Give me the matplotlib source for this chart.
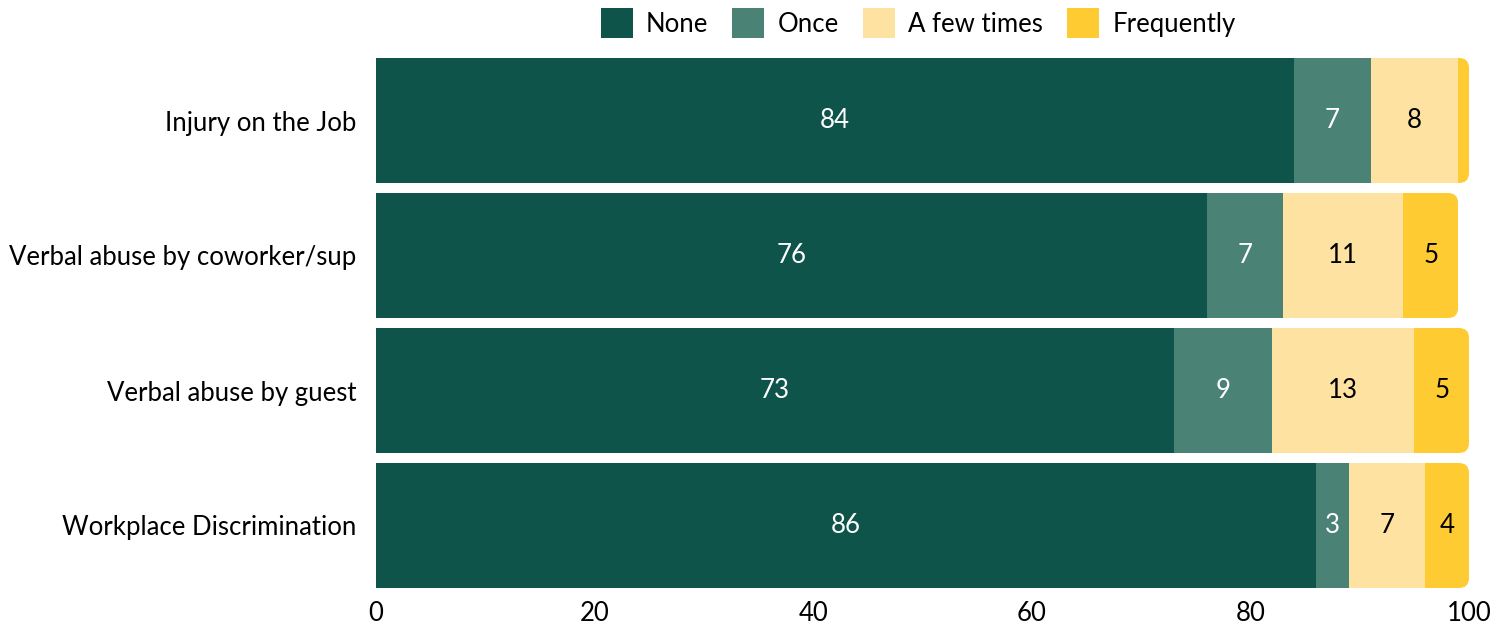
import numpy as np
import matplotlib.pyplot as plt
from matplotlib.patches import FancyBboxPatch

plt.rcParams['font.family'] = ['Lato', 'DejaVu Sans']

categories = ['Injury on the Job', 'Verbal abuse by coworker/sup',
              'Verbal abuse by guest', 'Workplace Discrimination']
series = ['None', 'Once', 'A few times', 'Frequently']
none_vals = [84, 76, 73, 86]
once_vals = [7, 7, 9, 3]
few_vals = [8, 11, 13, 7]
freq_vals = [1, 5, 5, 4]
colors = ['#0E544A', '#4A8276', '#FDE2A1', '#FFCB32']
text_colors = ['white', 'white', 'black', 'black']

W, H = 1510, 626
fig = plt.figure(figsize=(W / 100, H / 100), dpi=100)
ax = fig.add_axes([376 / W, 1 - 593 / H, (1469 - 376) / W, (593 - 53) / H])

y = np.arange(len(categories))
bar_h = 0.926
ax.set_xlim(0, 100)
ax.set_ylim(len(categories) - 0.5, -0.5)

# data units per pixel, for round corners
x_per_px = 100 / (1469 - 376)
y_per_px = len(categories) / (593 - 53)
aspect = y_per_px / x_per_px

data = [none_vals, once_vals, few_vals, freq_vals]
left = np.zeros(len(categories))
totals = np.sum(data, axis=0)
clips = []
for i in range(len(categories)):
    r = 10 * x_per_px
    clip = FancyBboxPatch((-5, y[i] - bar_h / 2), totals[i] + 5, bar_h,
                          boxstyle=f'round,pad=0,rounding_size={r}',
                          mutation_aspect=aspect, transform=ax.transData,
                          facecolor='none', edgecolor='none')
    ax.add_patch(clip)
    clips.append(clip)

for s, vals in enumerate(data):
    bars = ax.barh(y, vals, left=left, height=bar_h, color=colors[s],
                   label=series[s], linewidth=0)
    for i, b in enumerate(bars):
        b.set_clip_path(clips[i])
        if vals[i] >= 2:
            ax.text(left[i] + vals[i] / 2, y[i], str(vals[i]), ha='center',
                    va='center', fontsize=18.6, color=text_colors[s])
    left = left + np.array(vals)

ax.set_yticks(y)
ax.set_yticklabels(categories, fontsize=18.5)
ax.set_xticks(range(0, 101, 20))
ax.tick_params(axis='x', labelsize=18.5, length=0, pad=6)
ax.tick_params(axis='y', length=0, pad=14)
for sp in ax.spines.values():
    sp.set_visible(False)

fig.legend(loc='center', bbox_to_anchor=(918 / W, 1 - 23 / H), ncol=4,
           frameon=False, fontsize=18.5, handlelength=1.25, handleheight=1.4,
           handletextpad=0.5, columnspacing=0.95)

fig.savefig('out.png', dpi=100)
